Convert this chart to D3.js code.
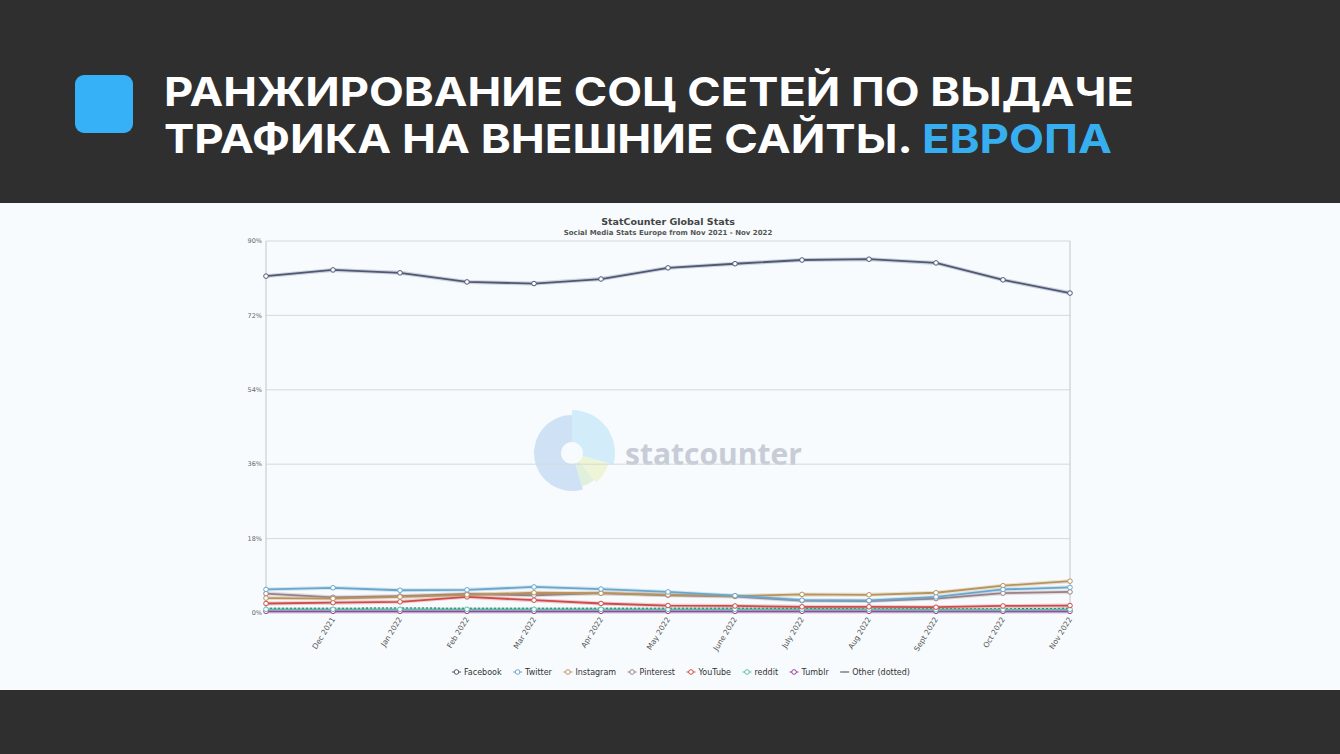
<!DOCTYPE html>
<meta charset="utf-8">
<title>Social Media Stats Europe</title>
<style>
html, body { margin: 0; padding: 0; overflow: hidden; background: #2f2f2f; }
.tick text { font-family: "DejaVu Sans", sans-serif; }
</style>
<svg width="1340" height="754"></svg>
<script src="https://cdn.jsdelivr.net/npm/d3@7"></script>
<script>

// months of the series (first one has no axis label)
var months = ["Nov 2021", "Dec 2021", "Jan 2022", "Feb 2022", "Mar 2022", "Apr 2022", "May 2022",
              "June 2022", "July 2022", "Aug 2022", "Sept 2022", "Oct 2022", "Nov 2022"];

// share of traffic, %
var facebook  = [81.5, 83.0, 82.3, 80.1, 79.7, 80.8, 83.5, 84.5, 85.4, 85.6, 84.7, 80.6, 77.4];
var twitter   = [5.7, 6.1, 5.5, 5.6, 6.3, 5.8, 5.1, 4.2, 3.1, 3.0, 3.9, 5.7, 6.2];
var instagram = [3.6, 3.5, 3.9, 4.4, 4.9, 4.8, 4.4, 4.1, 4.5, 4.4, 4.9, 6.6, 7.7];
var pinterest = [4.7, 3.8, 4.1, 4.6, 4.3, 4.8, 4.3, 4.0, 3.0, 2.9, 3.5, 4.8, 5.1];
var youtube   = [2.3, 2.5, 2.7, 3.9, 3.1, 2.3, 1.8, 1.7, 1.5, 1.5, 1.4, 1.7, 1.8];
var reddit    = [0.9, 0.9, 0.9, 0.9, 0.9, 0.9, 0.9, 0.9, 0.9, 0.9, 0.8, 0.8, 0.9];
var tumblr    = [0.4, 0.4, 0.4, 0.4, 0.4, 0.4, 0.4, 0.4, 0.4, 0.4, 0.4, 0.4, 0.4];
var other     = [1.1, 1.1, 1.2, 1.1, 1.1, 1.1, 1.1, 1.1, 1.1, 1.0, 1.0, 1.0, 1.1];

var yTicks = [0, 18, 36, 54, 72, 90];

var series = [
  {name: "Facebook",  values: facebook,  color: "#4f5876"},
  {name: "Twitter",   values: twitter,   color: "#6aa6cc"},
  {name: "Instagram", values: instagram, color: "#b8935c"},
  {name: "Pinterest", values: pinterest, color: "#9a7f86"},
  {name: "YouTube",   values: youtube,   color: "#cf4a4a"},
  {name: "reddit",    values: reddit,    color: "#5bbfa9"},
  {name: "Tumblr",    values: tumblr,    color: "#9a3f9a"},
  {name: "Other (dotted)", values: other, color: "#333a4a", dotted: true}
];

var svg = d3.select("svg");

// light panel behind the chart
svg.append("rect").attr("x", 0).attr("y", 203).attr("width", 1340).attr("height", 487)
    .attr("fill", "#f7fbfd");

// page heading
svg.append("rect").attr("x", 75).attr("y", 75).attr("width", 58).attr("height", 58)
    .attr("rx", 9).attr("fill", "#36b0f6");

var head = svg.append("g").style("font-family", "Inter, 'Open Sans', sans-serif")
    .style("font-weight", 700).style("font-size", "40px").attr("fill", "#fff");
head.append("text").attr("x", 164).attr("y", 106)
    .attr("textLength", 970).attr("lengthAdjust", "spacingAndGlyphs")
    .text("РАНЖИРОВАНИЕ СОЦ СЕТЕЙ ПО ВЫДАЧЕ");
var l2 = head.append("text").attr("x", 164).attr("y", 153)
    .attr("textLength", 948).attr("lengthAdjust", "spacingAndGlyphs");
l2.append("tspan").text("ТРАФИКА НА ВНЕШНИЕ САЙТЫ. ");
l2.append("tspan").attr("fill", "#36aef0").text("ЕВРОПА");

// chart titles
svg.append("text").attr("x", 668).attr("y", 225).attr("text-anchor", "middle")
    .style("font", "bold 9.5px 'DejaVu Sans', sans-serif").attr("fill", "#444")
    .text("StatCounter Global Stats");
svg.append("text").attr("x", 668).attr("y", 235).attr("text-anchor", "middle")
    .style("font", "bold 7px 'DejaVu Sans', sans-serif").attr("fill", "#555")
    .text("Social Media Stats Europe from Nov 2021 - Nov 2022");

var x = d3.scalePoint().domain(months).range([266, 1070]);
var y = d3.scaleLinear().domain([0, 90]).range([613, 241]);

// watermark
var wm = svg.append("g").attr("transform", "translate(572,453)");
var arc = d3.arc();
var wmParts = [
  {a0: 0, a1: 1.85, c: "#d3ecfa", r: 43},
  {a0: 1.85, a1: 2.45, c: "#eef5d6", r: 38},
  {a0: 2.45, a1: 2.85, c: "#e0f0dc", r: 35},
  {a0: 2.85, a1: 6.283, c: "#cfe1f5", r: 38}
];
wm.selectAll("path").data(wmParts).enter().append("path")
    .attr("d", function(d) { return arc({innerRadius: 11, outerRadius: d.r, startAngle: d.a0, endAngle: d.a1}); })
    .attr("fill", function(d) { return d.c; });
svg.append("text").attr("x", 625).attr("y", 465)
    .style("font", "bold 30px 'Open Sans', sans-serif").attr("fill", "#c7ccd6")
    .text("statcounter");

// grid
svg.append("g").selectAll("line").data(yTicks).enter().append("line")
    .attr("x1", 266).attr("x2", 1070)
    .attr("y1", function(d) { return y(d); }).attr("y2", function(d) { return y(d); })
    .attr("stroke", "#d6d8dc").attr("stroke-width", 1);
svg.append("line").attr("x1", 266).attr("x2", 266).attr("y1", 241).attr("y2", 613)
    .attr("stroke", "#c4c6ca");
svg.append("line").attr("x1", 1070).attr("x2", 1070).attr("y1", 241).attr("y2", 613)
    .attr("stroke", "#c4c6ca");

// y axis labels
var yAxis = svg.append("g").attr("transform", "translate(262,0)")
    .call(d3.axisLeft(y).tickValues(yTicks).tickSize(0).tickPadding(0)
      .tickFormat(function(d) { return d + "%"; }));
yAxis.select(".domain").remove();
yAxis.selectAll("text").style("font-size", "6.5px").attr("fill", "#666").attr("dy", "0.25em");

// x axis labels
var xAxis = svg.append("g").attr("transform", "translate(0,618)")
    .call(d3.axisBottom(x).tickSize(0).tickFormat(function(d, i) { return i === 0 ? "" : d; }));
xAxis.select(".domain").remove();
xAxis.selectAll("text")
    .style("font-size", "7.5px").attr("fill", "#555")
    .attr("text-anchor", "end").attr("dy", "0.3em").attr("y", 0)
    .attr("transform", "rotate(-58)");

// lines
var line = d3.line()
    .x(function(d, i) { return x(months[i]); })
    .y(function(d) { return y(d); });

var draw = series.slice().reverse();
var g = svg.append("g");
draw.forEach(function(s) {
  if (!s.dotted) {
    g.append("path").datum(s.values).attr("d", line).attr("fill", "none")
      .attr("stroke", s.color).attr("stroke-opacity", 0.25).attr("stroke-width", 4);
  }
  g.append("path").datum(s.values).attr("d", line).attr("fill", "none")
    .attr("stroke", s.color).attr("stroke-width", s.dotted ? 1.3 : 1.8)
    .attr("stroke-dasharray", s.dotted ? "2,2" : null);
});
draw.forEach(function(s) {
  if (s.dotted) return;
  g.selectAll(null).data(s.values).enter().append("circle")
    .attr("cx", function(d, i) { return x(months[i]); })
    .attr("cy", function(d) { return y(d); })
    .attr("r", 2.3).attr("fill", "#fff")
    .attr("stroke", s.color).attr("stroke-width", 1);
});

// legend
var leg = svg.append("g").style("font", "8px 'DejaVu Sans', sans-serif").attr("fill", "#333");
var lx = 452;
series.forEach(function(s) {
  var item = leg.append("g").attr("transform", "translate(" + lx + ",672)");
  item.append("line").attr("x1", 0).attr("x2", 9).attr("y1", 0).attr("y2", 0)
    .attr("stroke", s.dotted ? "#444" : s.color).attr("stroke-width", 1);
  if (!s.dotted) {
    item.append("circle").attr("cx", 4.5).attr("cy", 0).attr("r", 2.3)
      .attr("fill", "#fff").attr("stroke", s.color).attr("stroke-width", 1);
  }
  var t = item.append("text").attr("x", 12).attr("y", 3).text(s.name);
  lx += 12 + t.node().getComputedTextLength() + 11.5;
});

</script>
